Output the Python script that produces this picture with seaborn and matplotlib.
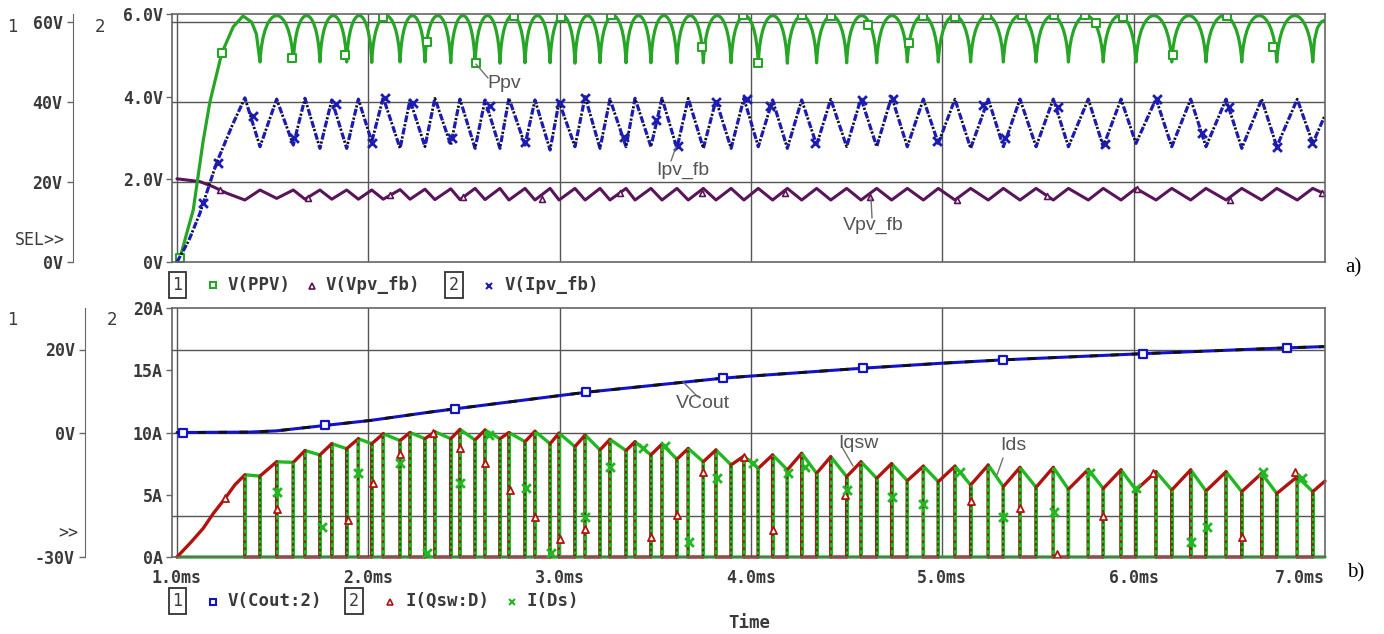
import matplotlib
matplotlib.use("Agg")
import matplotlib.pyplot as plt
from matplotlib.path import Path
from matplotlib.patches import PathPatch
from matplotlib.lines import Line2D
import seaborn as sns

# ---------------- data ----------------
# switching instants shared by both panels (ms)
t_off = [1.355, 1.521, 1.669, 1.809, 1.948, 2.078, 2.218, 2.348, 2.479, 2.610,
         2.735, 2.871, 2.997, 3.133, 3.263, 3.394, 3.535, 3.672, 3.817, 3.963,
         4.113, 4.265, 4.417, 4.575, 4.735, 4.901, 5.066, 5.240, 5.406, 5.580,
         5.763, 5.934, 6.117, 6.298, 6.483, 6.669, 6.855]
t_on = [1.434, 1.608, 1.747, 1.887, 2.018, 2.166, 2.296, 2.431, 2.558, 2.688,
        2.819, 2.950, 3.080, 3.211, 3.347, 3.477, 3.613, 3.751, 3.896, 4.038,
        4.190, 4.343, 4.500, 4.657, 4.817, 4.979, 5.148, 5.319, 5.490, 5.659,
        5.841, 6.012, 6.199, 6.378, 6.565, 6.748, 6.936]

# ---- panel a) ----
# V(PPV)  (axis 1, V)
ppv_rise_t = [1.0, 1.016, 1.05, 1.085, 1.136, 1.172, 1.234, 1.294, 1.345, 1.39, 1.415]
ppv_rise_v = [0.0, 1.0, 7.0, 13.0, 30.0, 40.0, 52.2, 58.8, 61.5, 60.0, 57.0]
ppv_trough = [50.0, 50.1, 50.0, 50.0, 49.9, 50.0, 50.0, 49.8, 49.7, 49.7, 49.8,
              49.8, 49.7, 49.8, 49.8, 49.8, 49.7, 49.8, 49.8, 49.7, 49.7, 49.8,
              49.8, 49.8, 50.0, 50.0, 50.0, 50.0, 50.0, 50.0, 50.0, 50.0, 50.0,
              50.0, 50.0, 50.0, 50.0]
ppv_peak = [61.6, 61.6, 61.6, 61.6, 61.6, 61.6, 61.6, 61.6, 61.6, 61.6, 61.6,
            61.6, 61.6, 61.6, 61.6, 61.6, 61.6, 61.6, 61.6, 61.6, 61.6, 61.6,
            61.6, 61.6, 61.6, 61.6, 61.6, 61.6, 61.6, 61.6, 61.6, 61.6, 61.6,
            61.6, 61.6, 61.6]
ppv_end_t = [6.945, 6.96, 6.98, 7.0]
ppv_end_v = [55.5, 58.5, 60.0, 60.5]
ppv_mark_t = [1.016, 1.234, 1.599, 1.878, 2.078, 2.305, 2.563, 2.763, 3.007, 3.267,
              3.742, 3.960, 4.038, 4.265, 4.418, 4.613, 4.827, 4.901, 5.066, 5.235,
              5.415, 5.584, 5.746, 5.803, 5.943, 6.204, 6.486, 6.730]
ppv_mark_v = [1.0, 52.2, 50.9, 51.75, 61.2, 55.1, 49.7, 61.5, 61.3, 61.75,
              53.8, 61.75, 49.7, 61.75, 61.5, 59.25, 54.7, 61.5, 61.3, 61.75,
              61.75, 61.75, 61.75, 59.7, 61.3, 51.75, 61.5, 53.8]

# V(Vpv_fb)  (axis 1, V)
vpv_start_t = [1.0, 1.12, 1.19, 1.26]
vpv_start_v = [20.8, 20.1, 18.8, 17.2]
vpv_trough = [15.5, 15.9, 15.7, 15.7, 15.7, 15.7, 15.7, 15.6, 15.6, 15.6, 15.5,
              15.5, 15.5, 15.5, 15.5, 15.5, 15.5, 15.5, 15.5, 15.5, 15.5, 15.5,
              15.5, 15.5, 15.5, 15.5, 15.5, 15.5, 15.5, 15.5, 15.5, 15.5, 15.5,
              15.5, 15.5, 15.5, 15.5]
vpv_peak = [18.0, 18.0, 18.0, 18.0, 18.0, 18.1, 18.2, 18.3, 18.4, 18.4, 18.4,
            18.4, 18.4, 18.4, 18.4, 18.4, 18.4, 18.4, 18.4, 18.4, 18.4, 18.4,
            18.4, 18.4, 18.4, 18.4, 18.4, 18.4, 18.4, 18.4, 18.4, 18.4, 18.4,
            18.4, 18.4, 18.4, 18.4]
vpv_end_t = [7.0]
vpv_end_v = [17.0]
vpv_mark_t = [1.225, 1.686, 2.113, 2.496, 2.906, 3.315, 3.742, 4.178, 4.622,
              5.075, 5.546, 6.016, 6.504, 6.983]
vpv_mark_v = [18.0, 15.9, 16.75, 16.3, 15.7, 17.3, 17.3, 17.3, 16.3,
              15.5, 16.5, 18.2, 15.5, 17.2]

# V(Ipv_fb)  (axis 2, V)
ipv_rise_t = [1.0, 1.06, 1.12, 1.207, 1.293]
ipv_rise_v = [0.0, 0.5, 1.18, 2.4, 3.35]
ipv_peak = [3.97, 3.94, 3.96, 3.92, 3.94, 3.98, 3.92, 3.96, 3.94, 3.92, 3.96,
            3.92, 3.88, 4.00, 3.94, 3.96, 3.96, 3.96, 3.92, 3.96, 3.92, 3.92,
            3.94, 3.96, 4.00, 3.94, 3.94, 3.94, 3.94, 3.94, 3.94, 3.94, 3.95,
            3.94, 3.94, 3.94, 3.94]
ipv_trough = [2.79, 2.83, 2.75, 2.75, 2.91, 2.75, 2.79, 2.83, 2.75, 2.75, 2.83,
              2.71, 2.79, 2.75, 2.79, 2.79, 2.75, 2.75, 2.75, 2.79, 2.75, 2.83,
              2.79, 2.79, 2.79, 2.87, 2.75, 2.79, 2.79, 2.79, 2.79, 2.87, 2.79,
              2.79, 2.75, 2.79, 2.87]
ipv_end_t = [7.0]
ipv_end_v = [3.55]
ipv_mark_t = [1.136, 1.216, 1.399, 1.611, 1.829, 2.018, 2.087, 2.235, 2.436, 2.636,
              2.819, 3.002, 3.133, 3.336, 3.503, 3.617, 3.817, 3.978, 4.099, 4.335,
              4.579, 4.744, 4.971, 5.214, 5.328, 5.606, 5.850, 6.124, 6.356, 6.500,
              6.748, 6.931]
ipv_mark_v = [1.43, 2.39, 3.53, 2.99, 3.82, 2.87, 3.96, 3.85, 2.99, 3.77,
              2.91, 3.84, 3.96, 3.03, 3.44, 2.81, 3.88, 3.94, 3.77, 2.87,
              3.92, 3.94, 2.93, 3.80, 2.99, 3.76, 2.85, 3.94, 3.13, 3.76,
              2.79, 2.87]

# ---- panel b) ----
# V(Cout:2)  (axis 1, V)
vcout_t = [1.0, 1.031, 1.38, 1.52, 1.774, 2.01, 2.32, 2.453, 3.0, 3.14, 3.855,
           4.0, 4.586, 5.0, 5.318, 6.05, 6.80, 7.0]
vcout_v = [0.0, 0.0, 0.1, 0.4, 1.7, 2.9, 4.9, 5.7, 8.9, 9.7, 13.1,
           13.6, 15.5, 16.7, 17.5, 19.0, 20.4, 20.7]
vcout_mark_idx = [1, 4, 7, 9, 10, 12, 14, 15, 16]

# I(Qsw:D) / I(Ds)  (axis 2, A): peak at switch turn-off, valley at turn-on
qsw_rise_t = [1.0, 1.068, 1.137, 1.19, 1.251, 1.303]
qsw_rise_v = [0.0, 1.1, 2.3, 3.5, 4.7, 5.8]
i_peak = [6.6, 7.65, 8.55, 9.1, 9.5, 9.9, 10.0, 10.06, 10.25, 10.2, 10.0, 10.1,
          9.95, 9.8, 9.45, 9.26, 9.07, 8.72, 8.6, 8.1, 8.2, 8.33, 8.06, 7.65,
          7.5, 7.3, 7.3, 7.39, 7.2, 7.2, 7.04, 7.0, 6.85, 7.0, 6.85, 6.72, 6.45]
i_valley = [6.5, 7.6, 8.2, 8.7, 9.1, 9.35, 9.5, 9.5, 9.4, 9.5, 9.26, 9.1,
            8.86, 8.6, 8.55, 8.2, 7.85, 7.65, 7.4, 7.12, 7.0, 6.72, 6.45, 6.32,
            6.13, 6.05, 5.78, 5.65, 5.6, 5.44, 5.5, 5.38, 5.38, 5.3, 5.25, 5.1, 5.25]
i_end = 6.1
qsw_mark_t = [1.251, 1.521, 1.895, 2.026, 2.166, 2.340, 2.479, 2.610, 2.740, 2.871,
              3.002, 3.133, 3.476, 3.612, 3.751, 3.963, 4.113, 4.491, 5.148, 5.406,
              5.598, 5.841, 6.103, 6.565, 6.843]
qsw_mark_v = [4.71, 3.86, 2.97, 5.92, 8.25, 9.94, 8.73, 7.57, 5.38, 3.24,
              1.42, 2.22, 1.63, 3.37, 6.85, 8.06, 2.17, 4.98, 4.52, 3.91,
              0.24, 3.29, 6.72, 1.63, 6.85]
ds_mark_t = [1.521, 1.756, 1.948, 2.166, 2.305, 2.479, 2.631, 2.824, 2.955, 3.133,
             3.263, 3.437, 3.551, 3.678, 3.821, 4.012, 4.195, 4.282, 4.500, 4.735,
             4.901, 5.092, 5.316, 5.584, 5.772, 6.012, 6.298, 6.382, 6.675, 6.878]
ds_mark_v = [5.24, 2.43, 6.72, 7.53, 0.30, 5.92, 9.80, 5.57, 0.30, 3.24,
             7.20, 8.73, 8.92, 1.23, 6.32, 7.53, 6.72, 7.25, 5.38, 4.80,
             4.26, 6.85, 3.19, 3.64, 6.77, 5.52, 1.23, 2.43, 6.85, 6.32]

x_ticks = [1, 2, 3, 4, 5, 6, 7]
x_ticklabels = ["1.0ms", "2.0ms", "3.0ms", "4.0ms", "5.0ms", "6.0ms", "7.0ms"]
a1_ticks = [0, 20, 40, 60]
a1_labels = ["0V", "20V", "40V", "60V"]
a2_ticks = [0, 2, 4, 6]
a2_labels = ["0V", "2.0V", "4.0V", "6.0V"]
b1_ticks = [-30, 0, 20]
b1_labels = ["-30V", "0V", "20V"]
b2_ticks = [0, 5, 10, 15, 20]
b2_labels = ["0A", "5A", "10A", "15A", "20A"]

# ---------------- styling ----------------
sns.set_style("white")
plt.rcParams['font.family'] = ['DejaVu Sans Mono', 'DejaVu Sans']
plt.rcParams['font.weight'] = 'bold'
plt.rcParams['lines.scale_dashes'] = False

C_PPV = '#27a527'
C_VPV = '#5a155a'
C_IPV = '#1c1cb0'
C_VCO = '#1212c8'
C_QSW = '#b01410'
C_DS = '#22b822'
C_GRID = '#555555'
C_FRAME = '#666666'
C_TXT = '#3a3a3a'

W, H = 1384, 634
fig = plt.figure(figsize=(W / 100, H / 100), dpi=100)
fig.patch.set_facecolor('white')


def fx(px):
    return px / W


def fy(py):
    return 1 - py / H


L, R = 172, 1325
axT = fig.add_axes([fx(L), fy(262), (R - L) / W, (262 - 14) / H])
axB = fig.add_axes([fx(L), fy(557), (R - L) / W, (557 - 308) / H])
axT2 = axT.twinx()
axB2 = axB.twinx()

for ax in (axT, axB):
    ax.set_xlim(0.974, 7.0)
axT.set_ylim(0, 62)
axT2.set_ylim(0, 6.0)
axB.set_ylim(-30, 30)
axB2.set_ylim(0, 20)


def setup(primary, twin, outward_pt, t1, l1, t2, l2):
    for s in ('top', 'right', 'bottom'):
        primary.spines[s].set_visible(False)
    primary.spines['left'].set_position(('outward', outward_pt))
    primary.spines['left'].set_color(C_FRAME)
    for s in twin.spines.values():
        s.set_color(C_FRAME)
        s.set_linewidth(1.2)
    primary.set_yticks(t1)
    primary.set_yticklabels(l1)
    twin.yaxis.tick_left()
    twin.set_yticks(t2)
    twin.set_yticklabels(l2)
    primary.tick_params(axis='y', direction='out', length=4.5, width=1,
                        color=C_FRAME, labelcolor=C_TXT, labelsize=12, pad=3)
    twin.tick_params(axis='y', direction='out', length=4.5, width=1,
                     color=C_FRAME, labelcolor=C_TXT, labelsize=12, pad=2)


setup(axT, axT2, 71.3, a1_ticks, a1_labels, a2_ticks, a2_labels)
setup(axB, axB2, 62.6, b1_ticks, b1_labels, b2_ticks, b2_labels)

# grid
for ax, hl in ((axT, [20, 40, 60]), (axB, [-20, 0, 20])):
    for xv in x_ticks[:-1]:
        ax.axvline(xv, color=C_GRID, lw=1.0, zorder=0.5)
    for yv in hl:
        ax.axhline(yv, color=C_GRID, lw=1.0, zorder=0.5)


def interleave(a, b):
    out = []
    for p, q in zip(a, b):
        out += [p, q]
    return out


# ---------------- panel a traces ----------------
vpv_t = vpv_start_t + interleave(t_off, t_on) + vpv_end_t
vpv_v = vpv_start_v + interleave(vpv_trough, vpv_peak) + vpv_end_v
sns.lineplot(x=vpv_t, y=vpv_v, ax=axT, sort=False, estimator=None, color=C_VPV,
             lw=2.2, legend=False, zorder=2)

verts = list(zip(ppv_rise_t, ppv_rise_v))
codes = [Path.MOVETO] + [Path.LINETO] * (len(verts) - 1)
verts.append((t_on[0], ppv_trough[0]))
codes.append(Path.LINETO)
for i in range(len(t_on) - 1):
    t0, t1 = t_on[i], t_on[i + 1]
    v0, v1 = ppv_trough[i], ppv_trough[i + 1]
    T = t1 - t0
    c = (ppv_peak[i] - 0.125 * (v0 + v1)) / 0.75
    verts += [(t0 + 0.1 * T, c), (t1 - 0.1 * T, c), (t1, v1)]
    codes += [Path.CURVE4] * 3
verts += list(zip(ppv_end_t, ppv_end_v))
codes += [Path.LINETO] * len(ppv_end_t)
axT.add_patch(PathPatch(Path(verts, codes), fill=False, edgecolor=C_PPV, lw=2.3,
                        zorder=2, joinstyle='round'))

sns.scatterplot(x=ppv_mark_t, y=ppv_mark_v, ax=axT, marker='s', s=26,
                facecolor='white', edgecolor=C_PPV, linewidth=1.5, zorder=3,
                legend=False)
sns.scatterplot(x=vpv_mark_t, y=vpv_mark_v, ax=axT, marker='^', s=18,
                facecolor='white', edgecolor=C_VPV, linewidth=1.2, zorder=3,
                legend=False)

ipv_t = ipv_rise_t + interleave(t_off, t_on) + ipv_end_t
ipv_v = ipv_rise_v + interleave(ipv_peak, ipv_trough) + ipv_end_v
sns.lineplot(x=ipv_t, y=ipv_v, ax=axT2, sort=False, estimator=None, color=C_IPV,
             lw=2.3, legend=False, zorder=2, linestyle=(0, (5, 4)))
sns.lineplot(x=ipv_t, y=ipv_v, ax=axT2, sort=False, estimator=None, color='#101010',
             lw=2.0, legend=False, zorder=2.1, linestyle=(3.0, (1.6, 7.4)))
sns.scatterplot(x=ipv_mark_t, y=ipv_mark_v, ax=axT2, marker='x', s=40,
                color=C_IPV, linewidth=2.0, zorder=3, legend=False)

# ---------------- panel b traces ----------------
sns.lineplot(x=vcout_t, y=vcout_v, ax=axB, sort=False, estimator=None, color=C_VCO,
             lw=2.2, legend=False, zorder=2)
sns.lineplot(x=vcout_t, y=vcout_v, ax=axB, sort=False, estimator=None, color='#111111',
             lw=2.0, legend=False, zorder=2.1, linestyle=(0, (6, 9)))
sns.scatterplot(x=[vcout_t[k] for k in vcout_mark_idx],
                y=[vcout_v[k] for k in vcout_mark_idx], ax=axB, marker='s', s=28,
                facecolor='white', edgecolor=C_VCO, linewidth=1.6, zorder=3,
                legend=False)

q_t = list(qsw_rise_t)
q_v = list(qsw_rise_v)
d_t = [1.0]
d_v = [0.0]
for i in range(len(t_off)):
    q_t += [t_off[i], t_off[i], t_on[i], t_on[i]]
    q_v += [i_peak[i], 0.0, 0.0, i_valley[i]]
    d_t += [t_off[i], t_off[i], t_on[i], t_on[i]]
    d_v += [0.0, i_peak[i], i_valley[i], 0.0]
q_t += [7.0]
q_v += [i_end]
d_t += [7.0]
d_v += [0.0]

sns.lineplot(x=d_t, y=d_v, ax=axB2, sort=False, estimator=None, color=C_DS,
             lw=2.4, legend=False, zorder=2, clip_on=False)
sns.lineplot(x=q_t, y=q_v, ax=axB2, sort=False, estimator=None, color=C_QSW,
             lw=2.4, legend=False, zorder=2.05, clip_on=False)
# green transitions on top, with striped overlay
axB2.vlines(t_off, 0, i_peak, colors=C_DS, lw=2.2, zorder=2.1)
axB2.vlines(t_on, 0, i_valley, colors=C_DS, lw=2.2, zorder=2.1)
axB2.vlines(t_off, 0, i_peak, colors='#7a2a12', lw=1.3, zorder=2.2,
            linestyles=[(0, (2, 3))])
axB2.vlines(t_on, 0, i_valley, colors='#4a3a10', lw=1.3, zorder=2.2,
            linestyles=[(0, (2, 2))])
sns.scatterplot(x=qsw_mark_t, y=qsw_mark_v, ax=axB2, marker='^', s=26,
                facecolor='white', edgecolor=C_QSW, linewidth=1.3, zorder=3,
                legend=False)
sns.scatterplot(x=ds_mark_t, y=ds_mark_v, ax=axB2, marker='x', s=40,
                color=C_DS, linewidth=2.0, zorder=3, legend=False)

for ax in (axT, axT2, axB, axB2):
    ax.set_ylabel('')
    ax.set_xlabel('')
axT.set_xticks([])
axB.set_xticks(x_ticks)
axB.set_xticklabels(x_ticklabels)
axB.tick_params(axis='x', direction='out', length=4.5, width=1, color=C_FRAME,
                labelcolor=C_TXT, labelsize=12, pad=4)
xt = axB.get_xticklabels()
xt[-1].set_horizontalalignment('right')


# ---------------- texts, legends, annotations ----------------
def ftxt(x, y, s, **kw):
    kw.setdefault('color', C_TXT)
    kw.setdefault('fontsize', 12)
    kw.setdefault('va', 'center')
    fig.text(fx(x), fy(y), s, **kw)


def pline(x0, y0, x1, y1, color='#707070', lw=1.0):
    fig.add_artist(Line2D([fx(x0), fx(x1)], [fy(y0), fy(y1)],
                          transform=fig.transFigure, color=color, lw=lw))


def pmark(x, y, marker, color, size=6, mew=1.5, fill='white'):
    fig.add_artist(Line2D([fx(x)], [fy(y)], transform=fig.transFigure,
                          marker=marker, ms=size, mew=mew, mec=color,
                          mfc=fill, ls='none'))


num_kw = dict(family='DejaVu Sans', fontweight='normal', fontsize=12, ha='center')
ftxt(12, 27, '1', **num_kw)
ftxt(100, 27, '2', **num_kw)
ftxt(12, 320, '1', **num_kw)
ftxt(112, 320, '2', **num_kw)
ftxt(65, 240, 'SEL>>', ha='right', fontweight='normal', fontsize=12)
ftxt(78, 533, '>>', ha='right', fontweight='normal', fontsize=12)

box_kw = dict(ha='center', fontsize=12, fontweight='normal',
              bbox=dict(boxstyle='square,pad=0.22', fc='white', ec='#333333', lw=1.3))
# legend a)
ftxt(177.5, 285, '1', **box_kw)
pmark(213, 285, 's', C_PPV, size=5)
ftxt(228, 285, 'V(PPV)', ha='left', fontsize=12.5)
pmark(312, 286, '^', C_VPV, size=4.5, mew=1.2)
ftxt(326, 285, 'V(Vpv_fb)', ha='left', fontsize=12.5)
ftxt(454, 285, '2', **box_kw)
pmark(489, 286, 'x', C_IPV, size=5, mew=1.5)
ftxt(505, 285, 'V(Ipv_fb)', ha='left', fontsize=12.5)
# legend b)
ftxt(177.5, 601, '1', **box_kw)
pmark(213, 602, 's', C_VCO, size=5)
ftxt(228, 601, 'V(Cout:2)', ha='left', fontsize=12.5)
ftxt(354, 601, '2', **box_kw)
pmark(390, 602, '^', C_QSW, size=4.5, mew=1.2)
ftxt(405, 601, 'I(Qsw:D)', ha='left', fontsize=12.5)
pmark(512, 602, 'x', C_DS, size=5, mew=1.5)
ftxt(527, 601, 'I(Ds)', ha='left', fontsize=12.5)

ftxt(749, 623, 'Time', ha='center', fontsize=12.5)

lab_kw = dict(family=['Liberation Serif', 'DejaVu Serif'], fontweight='normal',
              fontsize=15, color='black', ha='left')
ftxt(1345, 268, 'a)', **lab_kw)
ftxt(1347, 573, 'b)', **lab_kw)

ann_kw = dict(family=['Liberation Sans', 'DejaVu Sans'], fontweight='normal',
              fontsize=14, color='#555555', ha='left')
pline(476, 64, 488, 78)
ftxt(487, 83, 'Ppv', **ann_kw)
pline(676, 147, 671, 161)
ftxt(656, 170, 'Ipv_fb', **ann_kw)
pline(871, 198, 872, 218)
ftxt(843, 225, 'Vpv_fb', **ann_kw)
pline(683, 382, 698, 397)
ftxt(676, 404, 'VCout', **ann_kw)
pline(842, 447, 853, 466)
ftxt(838, 443, 'Iqsw', **ann_kw)
pline(1003, 458, 997, 475)
ftxt(1000, 446, 'Ids', **ann_kw)

fig.savefig('out.png', dpi=100, facecolor='white')
